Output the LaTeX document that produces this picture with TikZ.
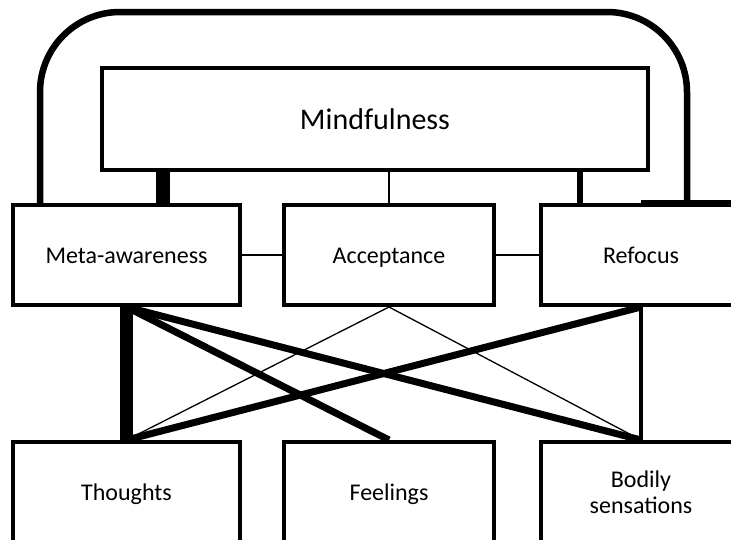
\documentclass[tikz,border=0pt]{standalone}
\usepackage{fontspec}
\setmainfont{Carlito}
\begin{document}
\begin{tikzpicture}[x=1pt,y=-1pt,
  box/.style={draw,line width=4pt,minimum height=100pt,inner sep=0pt,align=center,
    font=\fontsize{24}{26}\selectfont},
  onebox/.style={box,text height=19pt,text depth=3pt},
  bigbox/.style={box,minimum width=546pt,minimum height=102pt,font=\fontsize{30}{36}\selectfont,
    text height=23pt,text depth=3pt},
  looppath/.style={line width=6.5pt,rounded corners=80pt},
  hairline/.style={line width=1.3pt},
  heavy/.style={line width=7pt},
  mediumline/.style={line width=4pt}]
\useasboundingbox (0,0) rectangle (731,539);
\clip (0,0) rectangle (731,539);
\node[bigbox] (mind) at (375,119) {Mindfulness};
\node[onebox,minimum width=227pt] (meta) at (126.5,255) {Meta-awareness};
\node[onebox,minimum width=210pt] (acc) at (389,255) {Acceptance};
\node[onebox,minimum width=200pt] (ref) at (641,255) {Refocus};
\node[onebox,minimum width=227pt] (tho) at (126.5,492) {Thoughts};
\node[onebox,minimum width=210pt] (fee) at (389,492) {Feelings};
\node[box,minimum width=200pt] (bod) at (641,492) {Bodily\\sensations};
% loop
\coordinate (loopL) at ([xshift=29pt]meta.north west);
\coordinate (loopT) at ([yshift=54pt]mind.north);
\coordinate (loopR) at ([xshift=148pt]ref.north west);
\draw[looppath] (loopL) |- (loopT) -| (loopR);
\draw[line width=5pt] ([yshift=0.5pt]ref.north) -- ([yshift=0.5pt]ref.north east);
% mindfulness to middle row
\coordinate (mb) at ([xshift=152pt]meta.north west);
\coordinate (rb) at ([xshift=41pt]ref.north west);
\draw[line width=14pt] (mb) -- (mb |- mind.south);
\draw[line width=6.5pt] (rb) -- (rb |- mind.south);
\draw[line width=1.6pt] (acc.north) -- (acc.north |- mind.south);
% middle row links
\draw[hairline] (meta.east) -- (acc.west);
\draw[hairline] (acc.east) -- (ref.west);
% to bottom row
\draw[line width=13pt] (meta.south) -- (tho.north);
\draw[heavy] (meta.south) -- (fee.north);
\draw[heavy] (meta.south) -- (bod.north);
\draw[heavy] (ref.south) -- (tho.north);
\draw[hairline] (acc.south) -- (tho.north);
\draw[hairline] (acc.south) -- (bod.north);
\draw[mediumline] (ref.south) -- (bod.north);
\end{tikzpicture}
\end{document}
